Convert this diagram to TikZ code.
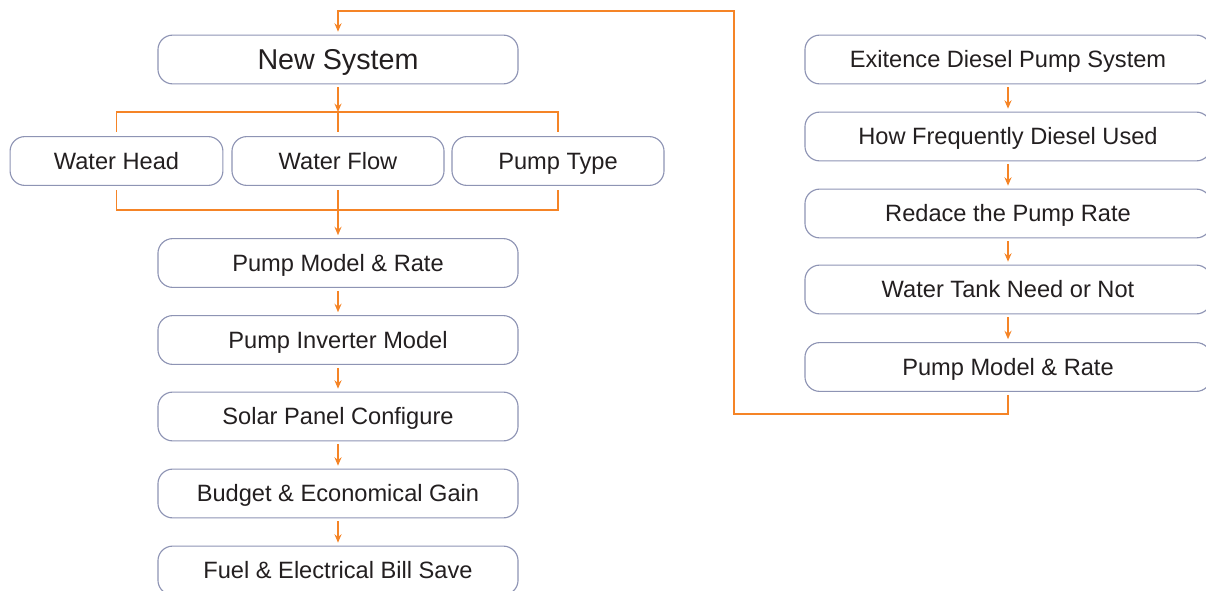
\documentclass[tikz,border=0pt]{standalone}
\usepackage{fontspec}
\setmainfont{Liberation Sans}
\usetikzlibrary{arrows.meta}
\definecolor{linkorange}{HTML}{F58426}
\definecolor{boxedge}{HTML}{8E94B4}
\definecolor{boxtext}{HTML}{231F20}
\tikzset{
  stage/.style={draw=boxedge, line width=0.8pt, rounded corners=10.5pt, fill=white,
    text=boxtext, minimum height=1.22cm, minimum width=9cm, inner sep=0pt,
    text height=12pt, text depth=0pt,
    font=\fontsize{16.8}{20}\selectfont},
  link/.style={draw=linkorange, line width=1pt},
  feed/.style={link, -{Stealth[length=6pt,width=5pt]}, shorten >=2pt, shorten <=2pt}
}
\begin{document}
\begin{tikzpicture}[x=0.025cm,y=-0.025cm]
\useasboundingbox (0,0) rectangle (1206,591);
% new system branch
\node[stage, text height=14.6pt, font=\fontsize{20.4}{24}\selectfont] (new) at (338,59.5) {New System};
\node[stage, minimum width=5.32cm] (head)  at (116.5,161) {Water Head};
\node[stage, minimum width=5.30cm] (flow)  at (338,161)   {Water Flow};
\node[stage, minimum width=5.30cm] (ptype) at (558,161)   {Pump Type};
\node[stage] (lrate)   at (338,263)   {Pump Model \& Rate};
\node[stage] (inv)     at (338,340)   {Pump Inverter Model};
\node[stage] (solar)   at (338,416.5) {Solar Panel Configure};
\node[stage] (budget)  at (338,493.5) {Budget \& Economical Gain};
\node[stage] (save)    at (338,570.5) {Fuel \& Electrical Bill Save};
% existing diesel branch
\node[stage, minimum width=10.15cm] (diesel) at (1008,59.5)  {Exitence Diesel Pump System};
\node[stage, minimum width=10.15cm] (often)  at (1008,136.5) {How Frequently Diesel Used};
\node[stage, minimum width=10.15cm] (reduce) at (1008,213.5) {Redace the Pump Rate};
\node[stage, minimum width=10.15cm] (tank)   at (1008,289.5) {Water Tank Need or Not};
\node[stage, minimum width=10.15cm] (rrate)  at (1008,367)   {Pump Model \& Rate};

\coordinate (split) at (338,112);
\coordinate (join)  at (338,210);
\coordinate (lowturn) at (734,414);
\coordinate (topturn) at (734,11);

\draw[feed, shorten >=0pt] (new) -- (split);
\draw[link, shorten <=3pt, shorten >=3pt] (head.north) |- (split) -| (ptype.north);
\draw[link, shorten <=3pt] (flow.north) -- (split);
\draw[link, shorten <=3pt, shorten >=3pt] (head.south) |- (join) -| (ptype.south);
\draw[link, shorten <=3pt] (flow.south) -- (join);
\draw[feed, shorten <=0pt] (join) -- (lrate);

\foreach \a/\b in {lrate/inv, inv/solar, solar/budget, budget/save,
  diesel/often, often/reduce, reduce/tank, tank/rrate}
  \draw[feed] (\a) -- (\b);

\draw[feed] (rrate.south) |- (lowturn) -- (topturn) -| (new.north);
\end{tikzpicture}
\end{document}
